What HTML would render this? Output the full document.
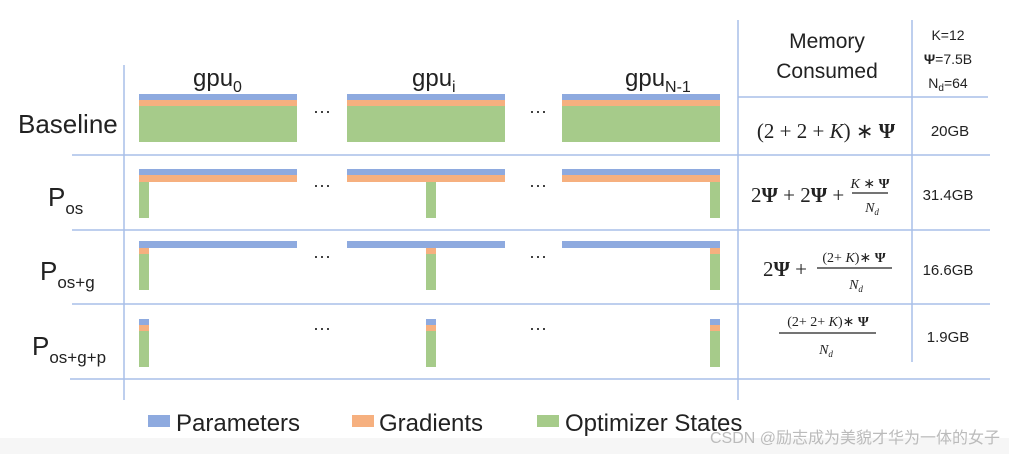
<!DOCTYPE html><html><head><meta charset="utf-8"><style>
body{margin:0;width:1009px;height:454px;overflow:hidden;background:#fff;font-family:"Liberation Sans","Noto Sans CJK SC",sans-serif}
</style></head><body>
<svg width="1009" height="454" xmlns="http://www.w3.org/2000/svg" style="position:absolute;left:0;top:0">
<rect x="0" y="438" width="1009" height="16" fill="#f6f6f6"/>
<g stroke="#a9bfe8" stroke-width="1.5">
<line x1="124" y1="65" x2="124" y2="400"/>
<line x1="738" y1="20" x2="738" y2="400"/>
<line x1="912" y1="20" x2="912" y2="362"/>
<line x1="738" y1="97" x2="988" y2="97"/>
<line x1="72" y1="155" x2="990" y2="155"/>
<line x1="72" y1="230" x2="990" y2="230"/>
<line x1="72" y1="304" x2="990" y2="304"/>
<line x1="70" y1="379" x2="990" y2="379"/>
</g>
<g font-size="24" fill="#222">
<text x="193" y="86">gpu<tspan font-size="16" dy="6">0</tspan></text>
<text x="412" y="86">gpu<tspan font-size="16" dy="6">i</tspan></text>
<text x="625" y="86">gpu<tspan font-size="16" dy="6">N-1</tspan></text>
<text x="18" y="133" font-size="26">Baseline</text>
<text x="48" y="206" font-size="26">P<tspan font-size="17" dy="8">os</tspan></text>
<text x="40" y="280" font-size="26">P<tspan font-size="17" dy="8">os+g</tspan></text>
<text x="32" y="355" font-size="26">P<tspan font-size="17" dy="8">os+g+p</tspan></text>
<text x="827" y="48" font-size="21" text-anchor="middle">Memory</text>
<text x="827" y="78" font-size="21" text-anchor="middle">Consumed</text>
<text x="948" y="40" font-size="14" text-anchor="middle">K=12</text>
<text x="948" y="64" font-size="14" text-anchor="middle"><tspan font-weight="bold">Ψ</tspan>=7.5B</text>
<text x="948" y="88" font-size="14" text-anchor="middle">N<tspan font-size="10" dy="3">d</tspan><tspan dy="-3">=64</tspan></text>
<text x="950" y="136" font-size="15" text-anchor="middle">20GB</text>
<text x="948" y="200" font-size="15" text-anchor="middle">31.4GB</text>
<text x="948" y="275" font-size="15" text-anchor="middle">16.6GB</text>
<text x="948" y="342" font-size="15" text-anchor="middle">1.9GB</text>
</g>
<g font-family="Liberation Serif,serif" fill="#222">
<text x="826" y="138" font-size="21" text-anchor="middle">(2 + 2 + <tspan font-style="italic">K</tspan>) ∗ <tspan font-weight="bold">Ψ</tspan></text>
<text x="751" y="202" font-size="21">2<tspan font-weight="bold">Ψ</tspan> + 2<tspan font-weight="bold">Ψ</tspan> +</text>
<text x="870" y="188" font-size="14" text-anchor="middle"><tspan font-style="italic">K</tspan> ∗ <tspan font-weight="bold">Ψ</tspan></text>
<line x1="852" y1="193" x2="888" y2="193" stroke="#222" stroke-width="1.2"/>
<text x="872" y="212" font-size="14" text-anchor="middle" font-style="italic">N<tspan font-size="9" dy="3">d</tspan></text>
<text x="763" y="276" font-size="21">2<tspan font-weight="bold">Ψ</tspan> +</text>
<text x="854" y="262" font-size="14" text-anchor="middle">(2+ <tspan font-style="italic">K</tspan>)∗ <tspan font-weight="bold">Ψ</tspan></text>
<line x1="817" y1="268" x2="892" y2="268" stroke="#222" stroke-width="1.2"/>
<text x="856" y="289" font-size="14" text-anchor="middle" font-style="italic">N<tspan font-size="9" dy="3">d</tspan></text>
<text x="828" y="326" font-size="14" text-anchor="middle">(2+ 2+ <tspan font-style="italic">K</tspan>)∗ <tspan font-weight="bold">Ψ</tspan></text>
<line x1="779" y1="333" x2="876" y2="333" stroke="#222" stroke-width="1.2"/>
<text x="826" y="354" font-size="14" text-anchor="middle" font-style="italic">N<tspan font-size="9" dy="3">d</tspan></text>
</g>
<g>
<rect x="139" y="94" width="158" height="6" fill="#8eaadf"/><rect x="139" y="100" width="158" height="6" fill="#f6b07f"/><rect x="139" y="106" width="158" height="36" fill="#a6cb8a"/>
<rect x="347" y="94" width="158" height="6" fill="#8eaadf"/><rect x="347" y="100" width="158" height="6" fill="#f6b07f"/><rect x="347" y="106" width="158" height="36" fill="#a6cb8a"/>
<rect x="562" y="94" width="158" height="6" fill="#8eaadf"/><rect x="562" y="100" width="158" height="6" fill="#f6b07f"/><rect x="562" y="106" width="158" height="36" fill="#a6cb8a"/>
<rect x="139" y="169" width="158" height="6" fill="#8eaadf"/><rect x="139" y="175" width="158" height="7" fill="#f6b07f"/><rect x="139" y="182" width="10" height="36" fill="#a6cb8a"/>
<rect x="347" y="169" width="158" height="6" fill="#8eaadf"/><rect x="347" y="175" width="158" height="7" fill="#f6b07f"/><rect x="426" y="182" width="10" height="36" fill="#a6cb8a"/>
<rect x="562" y="169" width="158" height="6" fill="#8eaadf"/><rect x="562" y="175" width="158" height="7" fill="#f6b07f"/><rect x="710" y="182" width="10" height="36" fill="#a6cb8a"/>
<rect x="139" y="241" width="158" height="7" fill="#8eaadf"/><rect x="139" y="248" width="10" height="6" fill="#f6b07f"/><rect x="139" y="254" width="10" height="36" fill="#a6cb8a"/>
<rect x="347" y="241" width="158" height="7" fill="#8eaadf"/><rect x="426" y="248" width="10" height="6" fill="#f6b07f"/><rect x="426" y="254" width="10" height="36" fill="#a6cb8a"/>
<rect x="562" y="241" width="158" height="7" fill="#8eaadf"/><rect x="710" y="248" width="10" height="6" fill="#f6b07f"/><rect x="710" y="254" width="10" height="36" fill="#a6cb8a"/>
<rect x="139" y="319" width="10" height="6" fill="#8eaadf"/><rect x="139" y="325" width="10" height="6" fill="#f6b07f"/><rect x="139" y="331" width="10" height="36" fill="#a6cb8a"/>
<rect x="426" y="319" width="10" height="6" fill="#8eaadf"/><rect x="426" y="325" width="10" height="6" fill="#f6b07f"/><rect x="426" y="331" width="10" height="36" fill="#a6cb8a"/>
<rect x="710" y="319" width="10" height="6" fill="#8eaadf"/><rect x="710" y="325" width="10" height="6" fill="#f6b07f"/><rect x="710" y="331" width="10" height="36" fill="#a6cb8a"/>
</g>
<g font-size="18" fill="#222" text-anchor="middle">
<text x="322" y="117">···</text><text x="538" y="117">···</text>
<text x="322" y="191">···</text><text x="538" y="191">···</text>
<text x="322" y="262">···</text><text x="538" y="262">···</text>
<text x="322" y="334">···</text><text x="538" y="334">···</text>
</g>
<rect x="148" y="415" width="22" height="12" fill="#8eaadf"/>
<rect x="352" y="415" width="22" height="12" fill="#f6b07f"/>
<rect x="537" y="415" width="22" height="12" fill="#a6cb8a"/>
<g font-size="24" fill="#222">
<text x="176" y="431">Parameters</text>
<text x="379" y="431">Gradients</text>
<text x="565" y="431">Optimizer States</text>
</g>
<text x="1000" y="443" font-size="16" fill="#bbb" text-anchor="end">CSDN @励志成为美貌才华为一体的女子</text>
</svg>
</body></html>
